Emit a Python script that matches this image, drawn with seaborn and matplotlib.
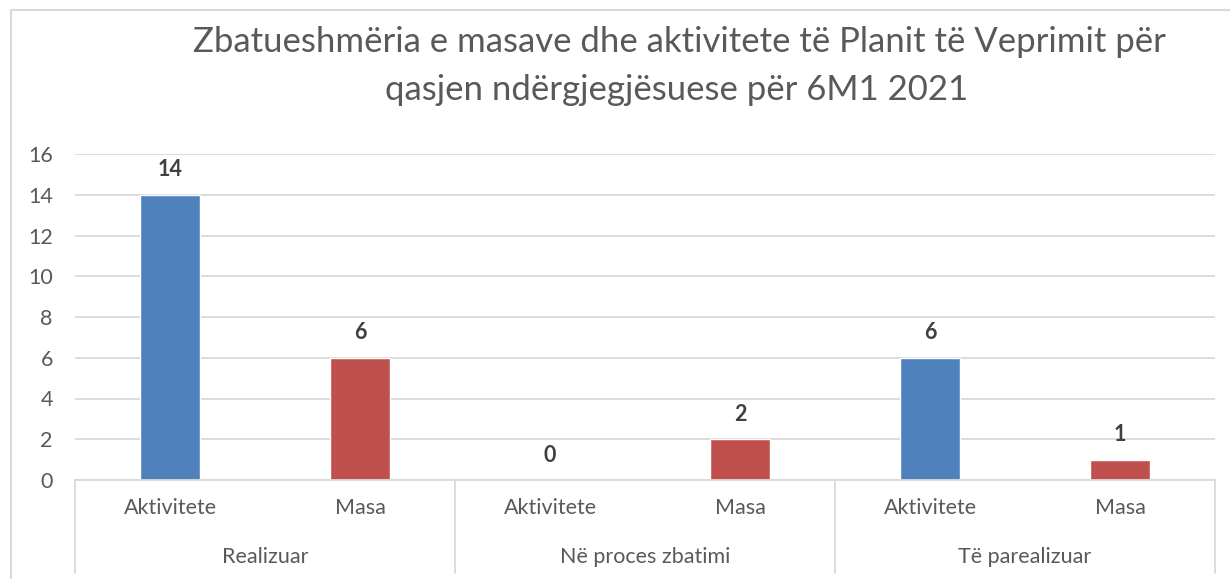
import pandas as pd
import matplotlib
matplotlib.use("Agg")
import matplotlib.pyplot as plt
import seaborn as sns
from matplotlib.lines import Line2D
import matplotlib.transforms as mtrans

# ---- data ----
grupet = ["Realizuar", "Në proces zbatimi", "Të parealizuar"]
llojet = ["Aktivitete", "Masa"]
vlerat = [14, 6, 0, 2, 6, 1]
titulli_1 = "Zbatueshmëria e masave dhe aktivitete të Planit të Veprimit për"
titulli_2 = "qasjen ndërgjegjësuese për 6M1 2021"

ngjyrat = {"Aktivitete": "#4F81BD", "Masa": "#C0504D"}
GRI_TEKST = "#595959"
GRI_VIJE = "#D9D9D9"

rows = []
for g in grupet:
    for l in llojet:
        rows.append({"kyc": g + "|" + l, "grupi": g, "lloji": l})
df = pd.DataFrame(rows)
df["vlera"] = vlerat

sns.set_style("white")
plt.rcParams["font.family"] = ["Lato", "DejaVu Sans"]

W, H = 1230, 579
FS = 15.5
fig = plt.figure(figsize=(W / 100, H / 100), dpi=100)
ax = fig.add_axes([75 / W, 1 - 480 / H, 1140 / W, (480 - 154) / H])

sns.barplot(data=df, x="kyc", y="vlera", hue="lloji", palette=ngjyrat,
            width=0.32, dodge=False, legend=False, ax=ax, saturation=1)

ax.set_xlim(-0.5, 5.5)
ax.set_ylim(0, 16)
ax.set_yticks(range(0, 17, 2))
ax.yaxis.grid(True, color=GRI_VIJE, lw=1.3)
ax.set_axisbelow(True)
for s in ["top", "right", "left"]:
    ax.spines[s].set_visible(False)
ax.spines["bottom"].set_color(GRI_VIJE)
ax.spines["bottom"].set_linewidth(1.3)
ax.set_xlabel("")
ax.set_ylabel("")
ax.set_xticks(range(len(df)))
ax.set_xticklabels(df["lloji"], fontsize=FS, color=GRI_TEKST)
ax.tick_params(axis="x", length=0, pad=13)
ax.tick_params(axis="y", length=0, pad=16, labelsize=FS, labelcolor=GRI_TEKST)

# etiketat e vlerave
for i, v in enumerate(df["vlera"]):
    ax.annotate(str(v), (i, v), xytext=(0, 18), textcoords="offset points",
                ha="center", va="center", fontsize=FS, fontweight="bold",
                color="#404040")

# boshti me dy nivele
blend = mtrans.blended_transform_factory(ax.transData, fig.transFigure)
y_lart = 1 - 480 / H
y_poshte = 1 - 573 / H
for xp in [-0.5, 1.5, 3.5, 5.5]:
    fig.add_artist(Line2D([xp, xp], [y_lart, y_poshte], transform=blend,
                          color=GRI_VIJE, lw=1.3))
for k, g in enumerate(grupet):
    fig.text(2 * k + 0.5, 1 - 557 / H, g, transform=blend, ha="center",
             va="center", fontsize=FS, color=GRI_TEKST)

# titulli
fig.text(679 / W, 1 - 42 / H, titulli_1, ha="center", va="center",
         fontsize=25, color=GRI_TEKST)
fig.text(677 / W, 1 - 90 / H, titulli_2, ha="center", va="center",
         fontsize=25, color=GRI_TEKST)

# korniza e grafikut
fig.add_artist(Line2D([11 / W, 11 / W], [1 - 10 / H, 0], transform=fig.transFigure,
                      color=GRI_VIJE, lw=1.5))
fig.add_artist(Line2D([11 / W, 1], [1 - 10 / H, 1 - 10 / H], transform=fig.transFigure,
                      color=GRI_VIJE, lw=1.5))

fig.savefig("out.png", dpi=100, facecolor="white")
